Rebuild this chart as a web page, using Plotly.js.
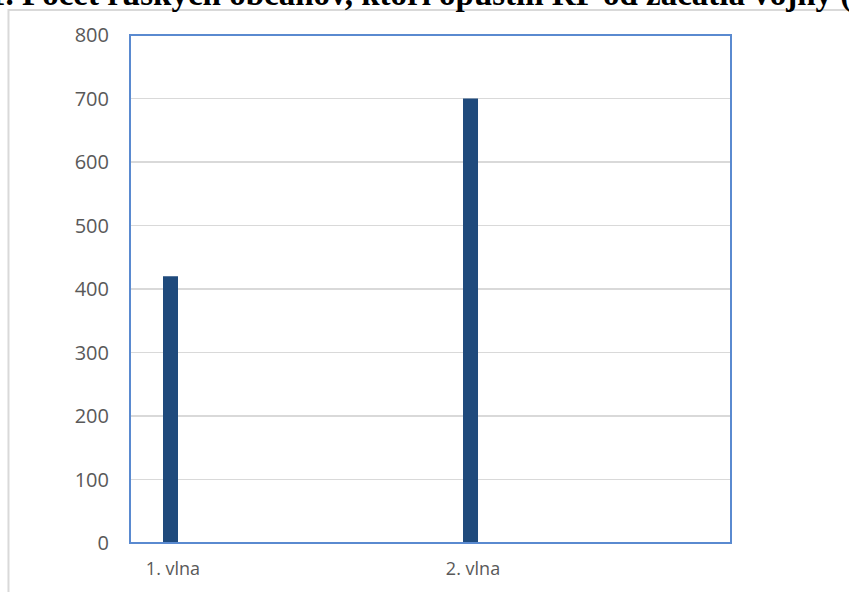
<!DOCTYPE html>
<html>
<head>
<meta charset="utf-8">
<script src="https://cdn.plot.ly/plotly-3.0.1.min.js"></script>
<style>html,body{margin:0;padding:0;background:#fff;}#chart{width:849px;height:592px;}</style>
</head>
<body>
<div id="chart"></div>
<script>
// Data
const categories = ["1. vlna", "2. vlna"];
const values = [420, 700];
const yTicks = [0, 100, 200, 300, 400, 500, 600, 700, 800];
const titleText = "1. Počet ruských občanov, ktorí opustili RF od začatia vojny (v tis.)";

const trace = {
  type: "bar",
  x: categories,
  y: values,
  width: 0.05,
  offset: -0.0333,
  marker: { color: "#1F4A7C", line: { width: 0 } },
  hoverinfo: "x+y"
};

const layout = {
  width: 849,
  height: 592,
  margin: { l: 130, r: 118, t: 35, b: 49, pad: 0 },
  paper_bgcolor: "#ffffff",
  plot_bgcolor: "#ffffff",
  showlegend: false,
  xaxis: {
    type: "category",
    range: [-0.1433, 1.86],
    showgrid: false,
    zeroline: false,
    showline: false,
    ticks: "",
    ticklabelstandoff: 13,
    tickfont: { family: "Open Sans, sans-serif", size: 18, color: "#595959" }
  },
  yaxis: {
    range: [0, 800],
    tickvals: yTicks,
    ticktext: yTicks.map(String),
    showgrid: true,
    gridcolor: "#d9d9d9",
    gridwidth: 1.3,
    zeroline: true,
    zerolinecolor: "#d9d9d9",
    zerolinewidth: 1.5,
    showline: false,
    ticks: "",
    ticklabelstandoff: 20,
    tickfont: { family: "Open Sans, sans-serif", size: 20, color: "#595959" }
  },
  shapes: [
    {
      type: "rect", xref: "paper", yref: "paper",
      x0: -0.2022, x1: 2, y0: -1, y1: 1.0492,
      line: { color: "#d9d9d9", width: 2 }, fillcolor: "rgba(0,0,0,0)", layer: "below"
    },
    {
      type: "rect", xref: "paper", yref: "paper",
      x0: 0, x1: 1, y0: 0, y1: 1,
      line: { color: "#5a8ad0", width: 2 }, fillcolor: "rgba(0,0,0,0)", layer: "above"
    }
  ],
  annotations: [
    {
      text: titleText,
      xref: "paper", yref: "paper",
      x: 0, y: 1,
      xanchor: "left", yanchor: "bottom",
      xshift: -143, yshift: 20,
      showarrow: false,
      font: { family: "Liberation Serif, Times New Roman, serif", size: 33, color: "#000000", weight: "bold" }
    }
  ]
};

Plotly.newPlot("chart", [trace], layout, { staticPlot: true, displayModeBar: false });
</script>
</body>
</html>
